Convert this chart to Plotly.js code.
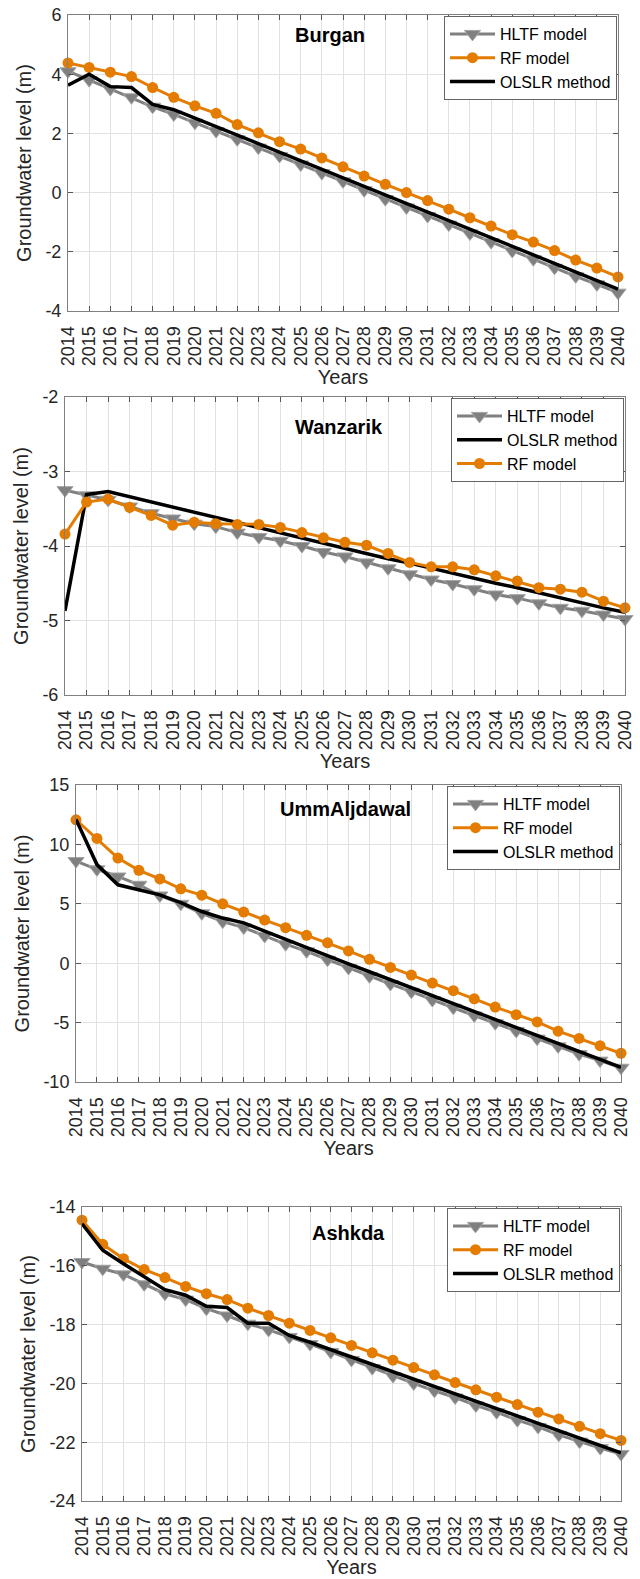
<!DOCTYPE html>
<html>
<head>
<meta charset="utf-8">
<script src="https://cdn.plot.ly/plotly-3.0.1.min.js"></script>
<style>
  html, body { margin: 0; padding: 0; background: #ffffff; }
  #chart { width: 640px; height: 1579px; }
</style>
</head>
<body>
<div id="chart"></div>
<script>
// ---- data ----
const years = [2014,2015,2016,2017,2018,2019,2020,2021,2022,2023,2024,2025,2026,2027,2028,2029,2030,2031,2032,2033,2034,2035,2036,2037,2038,2039,2040];
const yearLabels = ['2014','2015','2016','2017','2018','2019','2020','2021','2022','2023','2024','2025','2026','2027','2028','2029','2030','2031','2032','2033','2034','2035','2036','2037','2038','2039','2040'];

const panelNames = ['Burgan', 'Wanzarik', 'UmmAljdawal', 'Ashkda'];

const burganHLTF = [4.10,3.80,3.50,3.22,2.90,2.64,2.36,2.08,1.80,1.52,1.24,0.95,0.66,0.38,0.08,-0.22,-0.50,-0.79,-1.08,-1.38,-1.67,-1.97,-2.25,-2.54,-2.83,-3.10,-3.38];
const burganRF   = [4.38,4.23,4.07,3.92,3.55,3.22,2.93,2.68,2.30,2.02,1.72,1.47,1.17,0.87,0.56,0.28,0.00,-0.27,-0.56,-0.85,-1.13,-1.42,-1.67,-1.96,-2.28,-2.55,-2.85];
const burganOLS  = [3.63,4.00,3.58,3.55,2.98,2.80,2.52,2.23,1.94,1.65,1.36,1.07,0.78,0.50,0.21,-0.08,-0.37,-0.66,-0.95,-1.24,-1.53,-1.82,-2.11,-2.40,-2.68,-2.97,-3.26];

const wanHLTF = [-3.25,-3.32,-3.38,-3.47,-3.56,-3.63,-3.70,-3.74,-3.82,-3.88,-3.93,-4.00,-4.08,-4.14,-4.22,-4.30,-4.38,-4.45,-4.51,-4.58,-4.65,-4.70,-4.77,-4.83,-4.87,-4.92,-4.98];
const wanOLS  = [-4.87,-3.31,-3.27,-3.34,-3.41,-3.48,-3.55,-3.62,-3.69,-3.76,-3.83,-3.90,-3.96,-4.03,-4.10,-4.17,-4.23,-4.30,-4.36,-4.43,-4.50,-4.56,-4.63,-4.70,-4.76,-4.83,-4.89];
const wanRF   = [-3.84,-3.41,-3.37,-3.48,-3.59,-3.72,-3.68,-3.70,-3.71,-3.71,-3.75,-3.82,-3.89,-3.95,-3.99,-4.10,-4.22,-4.28,-4.28,-4.32,-4.40,-4.47,-4.56,-4.58,-4.62,-4.74,-4.83];

const ummHLTF = [8.6,7.9,7.3,6.6,5.7,5.0,4.2,3.5,3.0,2.3,1.6,1.0,0.3,-0.4,-1.1,-1.75,-2.4,-3.1,-3.75,-4.4,-5.05,-5.7,-6.35,-7.0,-7.65,-8.2,-8.8];
const ummRF   = [12.07,10.5,8.85,7.82,7.09,6.26,5.73,5.0,4.3,3.63,2.99,2.35,1.72,1.03,0.33,-0.36,-1.0,-1.67,-2.31,-3.0,-3.69,-4.33,-4.94,-5.72,-6.33,-6.94,-7.58];
const ummOLS  = [12.1,8.3,6.6,6.2,5.75,5.1,4.35,3.8,3.4,2.7,2.0,1.3,0.62,-0.05,-0.72,-1.39,-2.06,-2.73,-3.4,-4.07,-4.74,-5.41,-6.08,-6.75,-7.42,-8.09,-8.76];

const ashHLTF = [-15.87,-16.10,-16.29,-16.63,-16.95,-17.15,-17.46,-17.69,-17.97,-18.18,-18.42,-18.66,-18.93,-19.20,-19.48,-19.75,-20.00,-20.25,-20.48,-20.75,-20.98,-21.25,-21.48,-21.75,-21.98,-22.20,-22.40];
const ashRF   = [-14.45,-15.27,-15.76,-16.13,-16.40,-16.70,-16.95,-17.15,-17.44,-17.69,-17.95,-18.20,-18.45,-18.71,-18.96,-19.21,-19.46,-19.71,-19.97,-20.22,-20.47,-20.72,-20.98,-21.21,-21.46,-21.71,-21.94];
const ashOLS  = [-14.57,-15.47,-15.93,-16.38,-16.81,-17.00,-17.38,-17.42,-17.95,-17.95,-18.37,-18.60,-18.85,-19.10,-19.36,-19.61,-19.86,-20.11,-20.36,-20.61,-20.86,-21.11,-21.36,-21.61,-21.86,-22.11,-22.36];

// y-axis tick values and labels (hyphen-minus as in the original)
const burganYTicks = [-4, -2, 0, 2, 4, 6];
const burganYLabels = ['-4', '-2', '0', '2', '4', '6'];
const wanYTicks = [-6, -5, -4, -3, -2];
const wanYLabels = ['-6', '-5', '-4', '-3', '-2'];
const ummYTicks = [-10, -5, 0, 5, 10, 15];
const ummYLabels = ['-10', '-5', '0', '5', '10', '15'];
const ashYTicks = [-24, -22, -20, -18, -16, -14];
const ashYLabels = ['-24', '-22', '-20', '-18', '-16', '-14'];

const yRanges = [[-4, 6], [-6, -2], [-10, 15], [-24, -14]];
const yTickSets = [burganYTicks, wanYTicks, ummYTicks, ashYTicks];
const yLabelSets = [burganYLabels, wanYLabels, ummYLabels, ashYLabels];

// ---- layout geometry (pixels) ----
const W = 640, H = 1579;
const boxes = [
  {l: 68, r: 618, t: 15,   b: 311,  tx: 330, ty: 35},
  {l: 65, r: 625, t: 397,  b: 695,  tx: 339, ty: 427},
  {l: 76, r: 621, t: 785,  b: 1082, tx: 345, ty: 809},
  {l: 82, r: 621, t: 1207, b: 1501, tx: 348, ty: 1233}
];

const FONT = 'Liberation Sans, Arial, Helvetica, sans-serif';
const GRAY = 'rgb(128,128,128)';
const ORANGE = 'rgb(227,124,0)';
const BLACK = 'rgb(0,0,0)';

function ax(i) { return i === 0 ? '' : String(i + 1); }
function hltf(y, i) {
  return {x: years, y: y, name: 'HLTF model', type: 'scatter', mode: 'lines+markers',
    line: {color: GRAY, width: 3},
    marker: {symbol: 'triangle-down', size: 14, color: GRAY, line: {color: 'rgb(165,165,165)', width: 1}},
    xaxis: 'x' + ax(i), yaxis: 'y' + ax(i), legend: 'legend' + ax(i), cliponaxis: false};
}
function rf(y, i) {
  return {x: years, y: y, name: 'RF model', type: 'scatter', mode: 'lines+markers',
    line: {color: ORANGE, width: 3},
    marker: {symbol: 'circle', size: 11, color: ORANGE},
    xaxis: 'x' + ax(i), yaxis: 'y' + ax(i), legend: 'legend' + ax(i), cliponaxis: false};
}
function ols(y, i) {
  return {x: years, y: y, name: 'OLSLR method', type: 'scatter', mode: 'lines',
    line: {color: BLACK, width: 3.5},
    xaxis: 'x' + ax(i), yaxis: 'y' + ax(i), legend: 'legend' + ax(i), cliponaxis: false};
}

const data = [
  hltf(burganHLTF, 0), rf(burganRF, 0), ols(burganOLS, 0),
  hltf(wanHLTF, 1), ols(wanOLS, 1), rf(wanRF, 1),
  hltf(ummHLTF, 2), rf(ummRF, 2), ols(ummOLS, 2),
  hltf(ashHLTF, 3), rf(ashRF, 3), ols(ashOLS, 3)
];

const layout = {
  width: W, height: H,
  margin: {l: 0, r: 0, t: 0, b: 0},
  paper_bgcolor: '#ffffff', plot_bgcolor: '#ffffff',
  font: {family: FONT, color: '#262626', size: 18},
  showlegend: true,
  annotations: []
};

boxes.forEach((b, i) => {
  const s = ax(i);
  layout['xaxis' + s] = {
    domain: [b.l / W, b.r / W], anchor: 'y' + s, range: [2014, 2040],
    tickmode: 'array', tickvals: years, ticktext: yearLabels, tickangle: -90,
    ticks: 'inside', ticklen: 5, tickcolor: '#555', mirror: 'ticks',
    ticklabelstandoff: 7,
    showline: true, linecolor: 'rgb(128,128,128)', linewidth: 1,
    showgrid: true, gridcolor: 'rgb(225,225,225)', gridwidth: 1,
    zeroline: false, tickfont: {size: 18, color: '#262626'},
    title: {text: 'Years', font: {size: 20, color: '#262626'}, standoff: 4}
  };
  layout['yaxis' + s] = {
    domain: [1 - b.b / H, 1 - b.t / H], anchor: 'x' + s, range: yRanges[i],
    tickmode: 'array', tickvals: yTickSets[i], ticktext: yLabelSets[i],
    ticks: 'inside', ticklen: 5, tickcolor: '#555', mirror: 'ticks',
    ticklabelstandoff: 2,
    showline: true, linecolor: 'rgb(128,128,128)', linewidth: 1,
    showgrid: true, gridcolor: 'rgb(225,225,225)', gridwidth: 1,
    zeroline: false, tickfont: {size: 18, color: '#262626'},
    title: {text: 'Groundwater level (m)', font: {size: 20, color: '#262626'}, standoff: 8}
  };
  layout['legend' + s] = {
    x: (b.r - 1) / W, y: 1 - (b.t + 1) / H, xanchor: 'right', yanchor: 'top',
    xref: 'paper', yref: 'paper',
    bgcolor: '#ffffff', bordercolor: 'rgb(100,100,100)', borderwidth: 1,
    font: {size: 16, color: '#000000', family: FONT},
    traceorder: 'normal', tracegroupgap: 0, itemwidth: 45
  };
  layout.annotations.push({
    text: '<b>' + panelNames[i] + '</b>', xref: 'paper', yref: 'paper',
    x: b.tx / W, y: 1 - b.ty / H, xanchor: 'center', yanchor: 'middle',
    showarrow: false, font: {size: 20, color: '#000000', family: FONT}
  });
});

Plotly.newPlot('chart', data, layout, {displayModeBar: false, staticPlot: true});
</script>
</body>
</html>
